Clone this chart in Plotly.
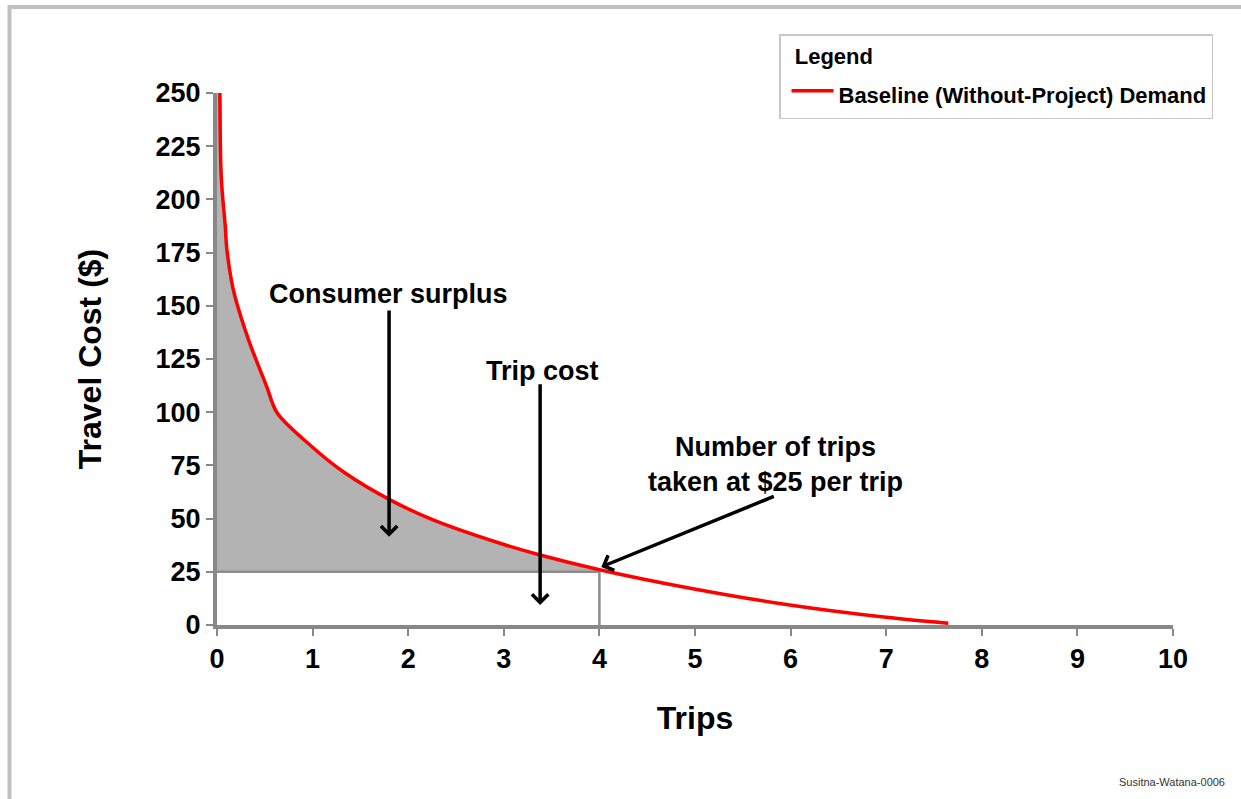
import plotly.graph_objects as go

# ---- data ----
trips = [0.03, 0.045, 0.087, 0.10, 0.15, 0.19, 0.33, 0.52, 0.63, 0.99, 1.34, 1.81,
         2.26, 2.96, 3.38, 4.0, 4.95, 5.99, 7.0, 7.65]
cost = [250, 210, 187, 178, 162, 154, 134, 112, 99.6, 83.9, 71.4, 58.8,
        49.4, 38.4, 32.9, 26, 17.3, 9.4, 3.6, 0.8]
trip_price = 25
trips_taken = 4
x_ticks = [0, 1, 2, 3, 4, 5, 6, 7, 8, 9, 10]
y_ticks = [0, 25, 50, 75, 100, 125, 150, 175, 200, 225, 250]
series_name = "Baseline (Without-Project) Demand"

FONT = "Liberation Sans, Arial, sans-serif"
W, H = 1241, 799
ML, MR, MT, MB = 217, 68, 93, 174
PW, PH = W - ML - MR, H - MT - MB


def px_x(p):
    return (p - ML) / PW


def px_y(p):
    return (H - MB - p) / PH


fig = go.Figure()

# consumer surplus polygon (area between price line and demand curve)
idx = trips.index(trips_taken)
fx = [0, 0] + trips[: idx + 1] + [trips_taken]
fy = [trip_price, max(y_ticks)] + cost[: idx + 1] + [trip_price]
fig.add_trace(go.Scatter(x=fx, y=fy, mode="lines", fill="toself",
                         fillcolor="#b3b3b3", line=dict(width=0, shape="spline", smoothing=0.9),
                         hoverinfo="skip", showlegend=False))

# price line and quantity line
fig.add_trace(go.Scatter(x=[0, trips_taken], y=[trip_price, trip_price], mode="lines",
                         line=dict(color="#8c8c8c", width=2.5), showlegend=False,
                         hoverinfo="skip"))
fig.add_trace(go.Scatter(x=[trips_taken, trips_taken], y=[0, trip_price], mode="lines",
                         line=dict(color="#8c8c8c", width=2.5), showlegend=False,
                         hoverinfo="skip"))

# demand curve
fig.add_trace(go.Scatter(x=trips, y=cost, mode="lines",
                         name="<span style='font-size:22px'>" + series_name + "</span>",
                         line=dict(color="#ff0000", width=3.5, shape="spline", smoothing=0.9)))

bold = dict(family=FONT, size=27, color="black", weight="bold")

ann = []
arrow_common = dict(showarrow=True, arrowhead=4, arrowsize=0.9, arrowwidth=3.5,
                    arrowcolor="black", xref="x", yref="y", axref="x", ayref="y",
                    text="", standoff=0, startstandoff=0)
ann.append(dict(x=1.80, y=41.5, ax=1.80, ay=148.5, **arrow_common))
ann.append(dict(x=3.38, y=9.4, ax=3.38, ay=113.8, **arrow_common))
ann.append(dict(x=4.02, y=27.3, ax=5.84, ay=60.7, **arrow_common))

ann.append(dict(x=1.79, y=155.7, xref="x", yref="y", text="Consumer surplus",
                showarrow=False, font=bold))
ann.append(dict(x=3.40, y=119.5, xref="x", yref="y", text="Trip cost",
                showarrow=False, font=bold))
ann.append(dict(x=5.84, y=75.3, xref="x", yref="y",
                text="Number of trips<br>taken at $25 per trip",
                showarrow=False, font=bold))
ann.append(dict(x=px_x(1227), y=px_y(782), xref="paper", yref="paper",
                xanchor="right", yanchor="middle", text="Susitna-Watana-0006",
                showarrow=False, font=dict(family=FONT, size=11, color="#333333")))

shapes = [dict(type="rect", xref="paper", yref="paper",
               x0=px_x(9.5), x1=px_x(1300), y0=px_y(850), y1=px_y(7),
               line=dict(color="#c0c0c0", width=4), fillcolor="rgba(0,0,0,0)",
               layer="below")]

fig.update_layout(
    width=W, height=H,
    margin=dict(l=ML, r=MR, t=MT, b=MB, pad=0),
    paper_bgcolor="white", plot_bgcolor="white",
    font=dict(family=FONT, color="black"),
    annotations=ann, shapes=shapes,
    showlegend=True,
    legend=dict(x=px_x(779), y=px_y(34), xanchor="left", yanchor="top",
                bordercolor="#c8c8c8", borderwidth=1.5, bgcolor="white",
                font=dict(family=FONT, size=31, color="black", weight="bold"),
                title=dict(text="\u00a0\u00a0Legend", side="top",
                           font=dict(family=FONT, size=22, color="black", weight="bold")),
                itemwidth=42, indentation=6,
                entrywidth=438, entrywidthmode="pixels"),
    xaxis=dict(range=[0, 10], tickvals=x_ticks, ticktext=[str(v) for v in x_ticks],
               showgrid=False, zeroline=False, showline=True, linecolor="#888888",
               linewidth=4, ticks="outside", ticklen=7, tickwidth=2, tickcolor="#888888",
               tickfont=dict(family=FONT, size=27, color="black", weight="bold"),
               title=dict(text="Trips", standoff=34,
                          font=dict(family=FONT, size=32, color="black", weight="bold")),
               automargin=False, fixedrange=True),
    yaxis=dict(range=[0, 250], tickvals=y_ticks, ticktext=[str(v) for v in y_ticks],
               showgrid=False, zeroline=False, showline=True, linecolor="#888888",
               linewidth=4, ticks="outside", ticklen=7, tickwidth=2, tickcolor="#888888",
               tickfont=dict(family=FONT, size=27, color="black", weight="bold"),
               title=dict(text="Travel Cost ($)", standoff=45,
                          font=dict(family=FONT, size=32, color="black", weight="bold")),
               automargin=False, fixedrange=True),
)

fig.write_html("out.html", config={"displayModeBar": False},
               post_script="document.body.style.margin='0px';"
                           "document.body.style.overflow='hidden';")
